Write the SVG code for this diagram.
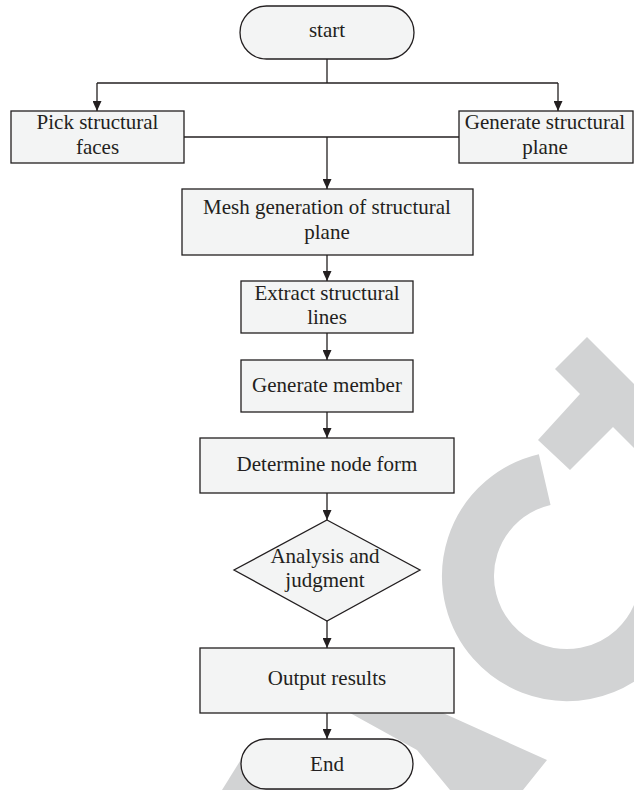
<svg xmlns="http://www.w3.org/2000/svg" width="634" height="790" viewBox="0 0 634 790">
<style>
.box{fill:#f3f4f4;stroke:#231f20;stroke-width:1.3}
.ln{fill:none;stroke:#231f20;stroke-width:1.3}
.t{font-family:"Liberation Serif","Times New Roman",serif;font-size:21px;fill:#231f20;text-anchor:middle}
.wm{fill:#d2d3d4;stroke:none}
</style>
<defs>
<marker id="ah" markerUnits="userSpaceOnUse" viewBox="0 0 10 9" refX="10" refY="4.5" markerWidth="10" markerHeight="9" orient="auto">
<path d="M0,0 L10,4.5 L0,9 z" fill="#231f20"/>
</marker>
</defs>
<rect width="634" height="790" fill="#ffffff"/>
<g id="watermark">
<path d="M544.7,479.6 A99,99 0 1 0 660,610" fill="none" stroke="#d2d3d4" stroke-width="52"/>
<polygon class="wm" points="538,440 570,470 613,427 634,448 634,384 587,337 555,369 580,394"/>
<polygon class="wm" points="350,713 443,713 547,760 523,790 450,790 417,750"/>
<polygon class="wm" points="222,790 250,745 300,745 300,790"/>
</g>
<g id="connectors">
<path class="ln" d="M327,59 V83"/>
<path class="ln" d="M97,83 H558"/>
<path class="ln" d="M97,83 V111" marker-end="url(#ah)"/>
<path class="ln" d="M558,83 V111" marker-end="url(#ah)"/>
<path class="ln" d="M184,137 H459"/>
<path class="ln" d="M327,137 V189" marker-end="url(#ah)"/>
<path class="ln" d="M327,255 V281" marker-end="url(#ah)"/>
<path class="ln" d="M327,333 V360" marker-end="url(#ah)"/>
<path class="ln" d="M327,412 V438" marker-end="url(#ah)"/>
<path class="ln" d="M327,493 V520" marker-end="url(#ah)"/>
<path class="ln" d="M327,621 V648" marker-end="url(#ah)"/>
<path class="ln" d="M327,713 V739" marker-end="url(#ah)"/>
</g>
<g id="start">
<rect class="box" x="240" y="6" width="174" height="53" rx="26.5" ry="26.5"/>
<text class="t" x="327" y="37">start</text>
</g>
<g id="pick">
<rect class="box" x="11" y="111" width="173" height="52"/>
<text class="t" x="97.5" y="129">Pick structural</text>
<text class="t" x="97.5" y="154">faces</text>
</g>
<g id="genplane">
<rect class="box" x="459" y="111" width="174" height="52"/>
<text class="t" x="545" y="129">Generate structural</text>
<text class="t" x="545" y="154">plane</text>
</g>
<g id="mesh">
<rect class="box" x="182" y="189" width="291" height="66"/>
<text class="t" x="327" y="214">Mesh generation of structural</text>
<text class="t" x="327" y="239">plane</text>
</g>
<g id="extract">
<rect class="box" x="241" y="281" width="172" height="52"/>
<text class="t" x="327" y="300">Extract structural</text>
<text class="t" x="327" y="324">lines</text>
</g>
<g id="member">
<rect class="box" x="241" y="360" width="172" height="52"/>
<text class="t" x="327" y="392">Generate member</text>
</g>
<g id="nodeform">
<rect class="box" x="200" y="438" width="254" height="55"/>
<text class="t" x="327" y="471">Determine node form</text>
</g>
<g id="analysis">
<polygon class="box" points="327,520 420,570 327,621 234,570"/>
<text class="t" x="325" y="563">Analysis and</text>
<text class="t" x="325" y="587">judgment</text>
</g>
<g id="output">
<rect class="box" x="200" y="648" width="254" height="65"/>
<text class="t" x="327" y="685">Output results</text>
</g>
<g id="end">
<rect class="box" x="241" y="739" width="172" height="50" rx="25" ry="25"/>
<text class="t" x="327" y="771">End</text>
</g>
</svg>
